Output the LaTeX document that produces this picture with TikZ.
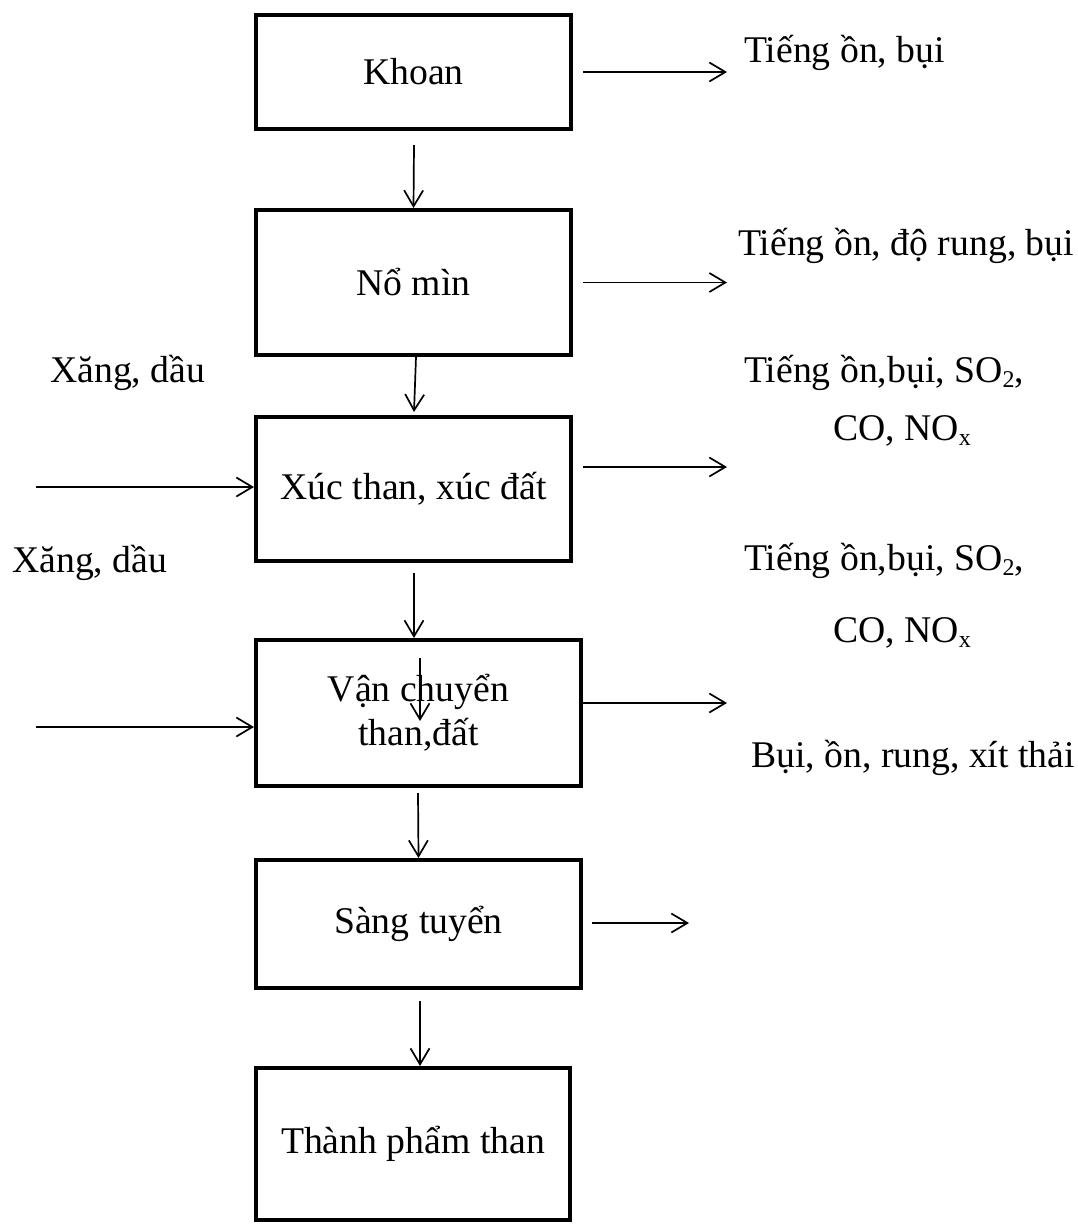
\documentclass[tikz,border=0pt]{standalone}
\usepackage{fontspec}
\setmainfont{Liberation Serif}
\usetikzlibrary{arrows.meta,calc}
\newcommand\mysub[1]{\raisebox{-5pt}{\fontsize{24}{24}\selectfont #1}}
\begin{document}
\begin{tikzpicture}[x=1pt,y=-1pt,
  box/.style={draw, line width=4pt, rectangle, inner sep=0pt, align=center,
    font=\fontsize{37.7}{44}\selectfont},
  arr/.style={-{Straight Barb[length=16pt,width=19pt]}, line width=1.7pt},
  lbl/.style={anchor=base west, inner sep=0pt, font=\fontsize{37.7}{44}\selectfont}]
\useasboundingbox (0,0) rectangle (1078,1224);
% boxes
\node[box, minimum width=315pt, minimum height=114pt] (khoan) at (413.5,72) {Khoan};
\node[box, minimum width=315pt, minimum height=145pt] (nomin) at (413.5,282.5) {Nổ mìn};
\node[box, minimum width=315pt, minimum height=144pt] (xuc) at (413.5,489) {Xúc than, xúc đất};
\node[box, minimum width=325pt, minimum height=146pt] (van) at (418.5,713) {Vận chuyển\\than,đất};
\node[box, minimum width=325pt, minimum height=128pt] (sang) at (418.5,924) {Sàng tuyển};
\node[box, minimum width=314pt, minimum height=152pt] (thanh) at (413,1144) {Thành phẩm than};
% labels
\node[lbl] (t1) at (744,62) {Tiếng ồn, bụi};
\node[lbl] (t2) at (738,255) {Tiếng ồn, độ rung, bụi};
\node[lbl] (t3) at (744,382) {Tiếng ồn,bụi, SO\mysub{2},};
\node[lbl] (t4) at (833,440) {CO, NO\mysub{x}};
\node[lbl] (t5) at (744,570) {Tiếng ồn,bụi, SO\mysub{2},};
\node[lbl] (t6) at (833,642) {CO, NO\mysub{x}};
\node[lbl] (t7) at (751,767) {Bụi, ồn, rung, xít thải};
\node[lbl] (x1) at (50,382) {Xăng, dầu};
\node[lbl] (x2) at (12,572) {Xăng, dầu};
% vertical arrows
\draw[arr] ($(khoan.south)+(0.5,14)$) -- (nomin.north);
\draw[arr] ($(nomin.south)+(2.5,0)$) -- ($(xuc.north)+(0.5,-3)$);
\draw[arr] ($(xuc.south)+(0.5,10)$) -- ($(van.north)+(-4.5,0)$);
\coordinate (vin1) at (420,658);
\coordinate (vin2) at (420,721);
\draw[arr] (vin1) -- (vin2);
\draw[arr] ($(van.south)+(-0.5,5)$) -- (sang.north);
\draw[arr] ($(sang.south)+(1.5,11)$) -- ($(thanh.north)+(7,0)$);
% right arrows
\coordinate (e1) at (727,72);
\coordinate (e2) at (727,282.5);
\coordinate (e3) at (727,467);
\coordinate (e4) at (727,703);
\coordinate (e5) at (689,923);
\draw[arr] ($(khoan.east)+(10,0)$) -- (e1);
\draw[arr] ($(nomin.east)+(10,0)$) -- (e2);
\draw[arr] ($(xuc.east)+(10,-22)$) -- (e3);
\draw[arr] ($(van.east)+(0,-10)$) -- (e4);
\draw[arr] ($(sang.east)+(9,-1)$) -- (e5);
% left arrows
\coordinate (w1) at (36,487);
\coordinate (w2) at (36,727);
\draw[arr] (w1) -- (xuc.west |- w1);
\draw[arr] (w2) -- (van.west |- w2);
\end{tikzpicture}
\end{document}
